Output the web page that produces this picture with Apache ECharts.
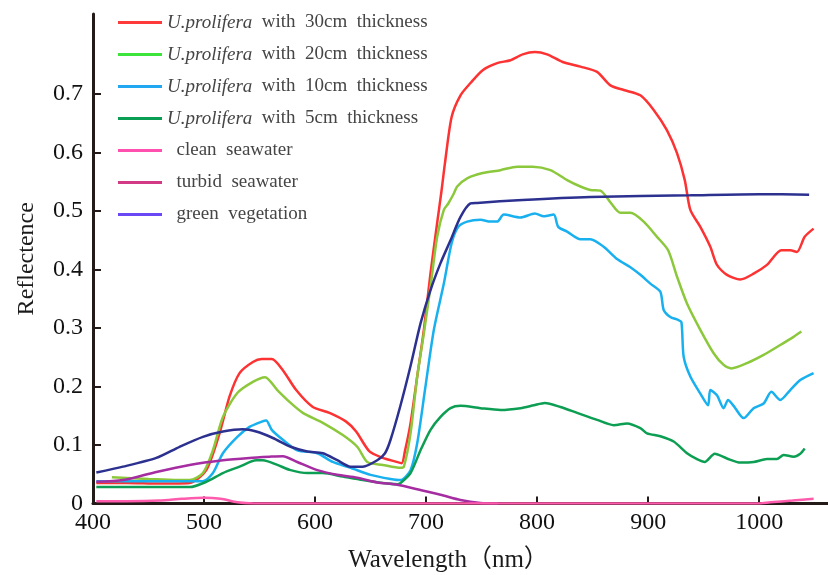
<!DOCTYPE html>
<html>
<head>
<meta charset="utf-8">
<title>Reflectance spectra</title>
<script src="https://cdn.jsdelivr.net/npm/echarts@6/dist/echarts.min.js"></script>
<style>
  html, body { margin: 0; padding: 0; background: #ffffff; }
  #chart { width: 828px; height: 575px; }
</style>
</head>
<body>
<div id="chart"></div>
<script>
// Wavelength (nm) / reflectance samples for each surface type
const wl30 = [403, 430, 460, 487, 502, 514, 523, 532, 544, 552, 561, 571, 583, 598, 613, 628, 637, 649, 661, 672, 678, 681, 686, 692, 698, 704, 710, 714, 717, 723, 731, 740, 751, 764, 776, 787, 798, 809, 823, 839, 854, 866, 878, 893, 905, 917, 926, 933, 938, 947, 956, 962, 971, 983, 995, 1007, 1020, 1028, 1034, 1041, 1049];
const ref30 = [0.035, 0.035, 0.034, 0.035, 0.057, 0.120, 0.183, 0.223, 0.242, 0.247, 0.247, 0.228, 0.194, 0.165, 0.155, 0.140, 0.123, 0.089, 0.078, 0.072, 0.069, 0.090, 0.137, 0.217, 0.297, 0.394, 0.480, 0.536, 0.582, 0.661, 0.698, 0.719, 0.741, 0.753, 0.758, 0.768, 0.772, 0.768, 0.755, 0.747, 0.738, 0.715, 0.707, 0.698, 0.673, 0.638, 0.599, 0.553, 0.502, 0.473, 0.439, 0.408, 0.391, 0.383, 0.393, 0.408, 0.433, 0.433, 0.430, 0.456, 0.470];

const wl20 = [417, 450, 487, 499, 508, 517, 530, 544, 555, 566, 578, 589, 607, 625, 638, 647, 661, 677, 680, 686, 692, 698, 704, 710, 716, 720, 725, 728, 737, 751, 767, 782, 796, 812, 827, 839, 848, 857, 866, 875, 884, 896, 908, 918, 926, 935, 947, 959, 968, 975, 989, 1004, 1019, 1031, 1038];
const ref20 = [0.045, 0.042, 0.040, 0.052, 0.091, 0.148, 0.189, 0.208, 0.216, 0.194, 0.172, 0.155, 0.138, 0.117, 0.097, 0.071, 0.066, 0.061, 0.063, 0.120, 0.217, 0.291, 0.371, 0.456, 0.502, 0.513, 0.530, 0.542, 0.556, 0.565, 0.570, 0.576, 0.576, 0.570, 0.553, 0.542, 0.536, 0.535, 0.515, 0.497, 0.497, 0.482, 0.456, 0.433, 0.388, 0.342, 0.297, 0.257, 0.237, 0.231, 0.240, 0.254, 0.271, 0.285, 0.294];

const wl10 = [403, 450, 499, 508, 517, 530, 541, 552, 556, 561, 571, 584, 602, 616, 632, 650, 668, 677, 686, 692, 699, 707, 716, 723, 729, 737, 749, 758, 764, 770, 785, 798, 806, 815, 819, 827, 839, 848, 860, 872, 884, 893, 902, 911, 914, 920, 927, 930, 932, 938, 947, 954, 956, 962, 968, 972, 977, 986, 995, 1004, 1011, 1019, 1028, 1037, 1049];
const ref10 = [0.038, 0.038, 0.038, 0.052, 0.086, 0.114, 0.131, 0.140, 0.142, 0.126, 0.109, 0.091, 0.086, 0.071, 0.061, 0.049, 0.042, 0.040, 0.057, 0.103, 0.194, 0.297, 0.376, 0.445, 0.473, 0.482, 0.485, 0.482, 0.482, 0.494, 0.489, 0.496, 0.491, 0.494, 0.473, 0.465, 0.452, 0.452, 0.439, 0.418, 0.404, 0.391, 0.376, 0.362, 0.331, 0.319, 0.314, 0.310, 0.251, 0.217, 0.188, 0.168, 0.194, 0.185, 0.163, 0.177, 0.167, 0.146, 0.163, 0.171, 0.191, 0.177, 0.194, 0.211, 0.223];

const wl5 = [403, 450, 487, 502, 517, 532, 547, 553, 566, 578, 593, 607, 625, 643, 661, 674, 677, 686, 695, 704, 713, 722, 731, 749, 767, 785, 797, 807, 821, 836, 854, 869, 881, 893, 899, 911, 923, 935, 944, 951, 960, 971, 983, 995, 1007, 1016, 1022, 1031, 1037, 1041];
const ref5 = [0.028, 0.028, 0.028, 0.037, 0.052, 0.063, 0.074, 0.074, 0.066, 0.057, 0.052, 0.052, 0.046, 0.040, 0.035, 0.033, 0.035, 0.052, 0.091, 0.126, 0.148, 0.163, 0.167, 0.163, 0.160, 0.163, 0.168, 0.172, 0.165, 0.155, 0.143, 0.134, 0.137, 0.129, 0.120, 0.115, 0.106, 0.086, 0.076, 0.071, 0.085, 0.077, 0.070, 0.071, 0.076, 0.076, 0.083, 0.080, 0.085, 0.094];

const wlClean = [403, 430, 460, 480, 500, 515, 530, 545, 700, 850, 1000, 1010, 1030, 1049];
const refClean = [0.004, 0.004, 0.005, 0.008, 0.010, 0.008, 0.002, 0.000, 0.000, 0.000, 0.000, 0.002, 0.005, 0.008];

const wlTurbid = [403, 427, 457, 487, 517, 541, 559, 571, 584, 602, 620, 638, 656, 674, 695, 713, 731, 749, 765];
const refTurbid = [0.037, 0.040, 0.054, 0.066, 0.074, 0.078, 0.080, 0.081, 0.071, 0.057, 0.049, 0.044, 0.036, 0.032, 0.023, 0.015, 0.006, 0.001, 0.000];

const wlVeg = [403, 427, 457, 478, 499, 517, 535, 547, 562, 578, 593, 607, 620, 632, 643, 656, 663, 668, 677, 686, 695, 704, 713, 722, 731, 740, 746, 787, 848, 938, 1000, 1045];
const refVeg = [0.053, 0.063, 0.078, 0.097, 0.114, 0.123, 0.127, 0.123, 0.112, 0.097, 0.089, 0.086, 0.074, 0.063, 0.063, 0.074, 0.086, 0.109, 0.168, 0.235, 0.308, 0.365, 0.411, 0.450, 0.490, 0.513, 0.514, 0.519, 0.524, 0.527, 0.529, 0.528];

const xTicks = [400, 500, 600, 700, 800, 900, 1000];
const yTicks = [0, 0.1, 0.2, 0.3, 0.4, 0.5, 0.6, 0.7];

const serif = '"Liberation Serif", "Times New Roman", "Noto Sans CJK SC", serif';
const axisColor = '#241a18';

const seriesDefs = [
  { name: 'U.prolifera with 30cm thickness', thick: '30cm', wl: wl30, ref: ref30, color: '#fd3232', legend: '#ff3a3a' },
  { name: 'U.prolifera with 20cm thickness', thick: '20cm', wl: wl20, ref: ref20, color: '#8cc83c', legend: '#3ce43c' },
  { name: 'U.prolifera with 10cm thickness', thick: '10cm', wl: wl10, ref: ref10, color: '#18b0ee', legend: '#22a8f0' },
  { name: 'U.prolifera with 5cm thickness', thick: '5cm', wl: wl5, ref: ref5, color: '#0c9e52', legend: '#0a9e55' },
  { name: 'clean seawater', wl: wlClean, ref: refClean, color: '#ff5aac', legend: '#ff50b0' },
  { name: 'turbid seawater', wl: wlTurbid, ref: refTurbid, color: '#a62ca2', legend: '#d23a86' },
  { name: 'green vegetation', wl: wlVeg, ref: refVeg, color: '#2c3190', legend: '#6a48f4' }
];

const zOrder = { 'clean seawater': 3 };

const chart = echarts.init(document.getElementById('chart'), null, { renderer: 'canvas' });

chart.setOption({
  backgroundColor: '#ffffff',
  animation: false,
  grid: { left: 93, right: 0, top: 14, bottom: 71.5, containLabel: false, outerBoundsMode: 'none' },
  legend: {
    orient: 'vertical',
    left: 113,
    top: 7,
    itemWidth: 44,
    itemHeight: 3,
    itemGap: 11,
    icon: 'rect',
    textStyle: {
      fontFamily: serif,
      fontSize: 19,
      color: '#454545',
      lineHeight: 21,
      rich: {
        i: { fontFamily: serif, fontSize: 19, fontStyle: 'italic', color: '#454545', lineHeight: 21 }
      }
    },
    formatter: function (name) {
      const def = seriesDefs.find(function (d) { return d.name === name; });
      if (def && def.thick) {
        return '{i|U.prolifera}  with  ' + def.thick + '  thickness';
      }
      return '  ' + name.split(' ').join('  ');
    },
    data: seriesDefs.map(function (d) {
      return { name: d.name, itemStyle: { color: d.legend } };
    })
  },
  xAxis: {
    type: 'value',
    min: 400,
    max: 1062,
    name: 'Wavelength（nm）',
    nameLocation: 'middle',
    nameGap: 44,
    nameTextStyle: { fontFamily: serif, fontSize: 25, color: '#1a1a1a', padding: [0, 24, 0, 0] },
    axisLine: { show: true, lineStyle: { color: axisColor, width: 3 } },
    axisTick: { show: true, inside: true, length: 7, customValues: xTicks, lineStyle: { color: axisColor, width: 2 } },
    axisLabel: {
      customValues: xTicks,
      fontFamily: serif,
      fontSize: 24,
      color: '#111111',
      margin: 7,
      formatter: function (v) { return String(v); }
    },
    splitLine: { show: false }
  },
  yAxis: {
    type: 'value',
    min: 0,
    max: 0.837,
    name: 'Reflectence',
    nameLocation: 'middle',
    nameRotate: 90,
    nameGap: 54,
    nameTextStyle: { fontFamily: serif, fontSize: 24, color: '#1a1a1a' },
    axisLine: { show: true, lineStyle: { color: axisColor, width: 3 } },
    axisTick: { show: true, inside: true, length: 8, customValues: yTicks, lineStyle: { color: axisColor, width: 2 } },
    axisLabel: {
      customValues: yTicks,
      fontFamily: serif,
      fontSize: 24,
      color: '#111111',
      margin: 10,
      formatter: function (v) { return v === 0 ? '0' : v.toFixed(1); }
    },
    splitLine: { show: false }
  },
  series: seriesDefs.map(function (d) {
    return {
      name: d.name,
      type: 'line',
      data: d.wl.map(function (x, i) { return [x, d.ref[i]]; }),
      showSymbol: false,
      smooth: 0.25,
      z: zOrder[d.name] || 2,
      lineStyle: { color: d.color, width: 2.5 },
      itemStyle: { color: d.color },
      emphasis: { disabled: true }
    };
  })
});
</script>
</body>
</html>
